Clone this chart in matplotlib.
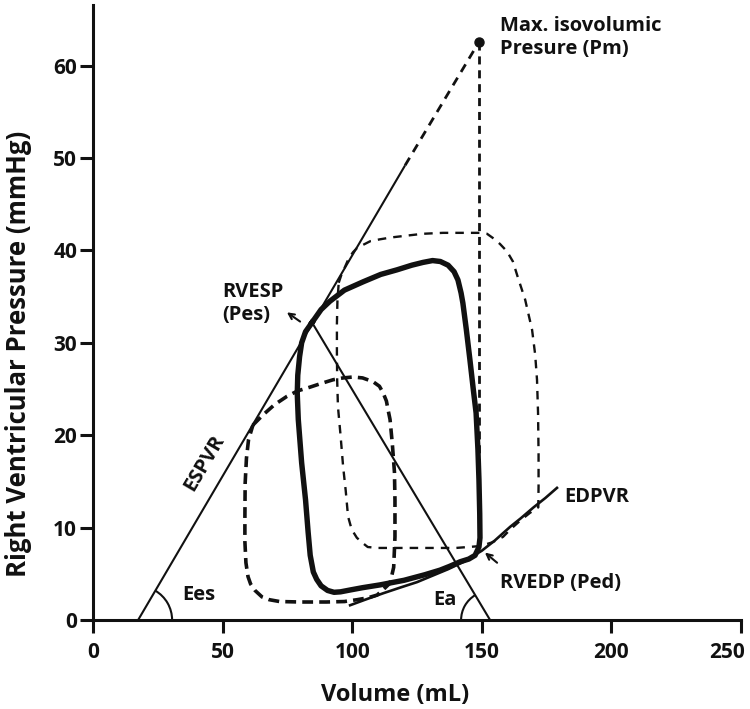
import numpy as np
import matplotlib
matplotlib.use('Agg')
import matplotlib.pyplot as plt
from matplotlib.patches import Arc
from matplotlib.transforms import ScaledTranslation

plt.rcParams['font.family'] = ['Open Sans', 'DejaVu Sans']
INK = '#111111'

# baseline PV loop (thick solid), volume mL / pressure mmHg
base_v = [84.5, 88, 91.4, 97, 104.2, 111, 117.3, 123, 127.3, 131, 134, 137, 139.3, 140.8, 142, 142.7,
          144, 145.4, 146.7, 147.8, 148.5, 148.9, 149.2, 149.3, 148.9, 147.4, 145, 141.6, 137.5, 133.9,
          128, 120, 110.7, 104, 99.2, 95.5, 93, 90.5, 88, 86.3, 85, 83.8, 83, 82, 80.5, 79.2, 78.8,
          79, 79.7, 80.5, 82, 84.5]
base_p = [32.2, 33.6, 34.5, 35.7, 36.6, 37.4, 37.9, 38.4, 38.7, 38.9, 38.8, 38.4, 37.7, 36.8, 35.4, 34.3,
          31.5, 28.2, 25, 22.4, 18.5, 15.2, 11.5, 8.9, 7.9, 7.0, 6.6, 6.3, 5.8, 5.4,
          4.9, 4.3, 3.8, 3.5, 3.25, 3.05, 3.0, 3.2, 3.7, 4.4, 5.2, 7.0, 9.5, 13, 17, 21.7, 24.5,
          26.5, 28.5, 30, 31.2, 32.2]

# smaller loop (thick dashed)
small_v = [61.7, 65.6, 70, 74.8, 79, 83.7, 88, 92.6, 96.5, 100.3, 104, 108, 110.5, 111.9, 113.2, 113.8,
           114.6, 115.5, 116.3, 116.5, 116.5, 116, 114.6, 112, 109.6, 106, 101.9, 97, 90, 80, 72,
           68, 65.2, 62.5, 60.8, 59.8, 59, 58.6, 58.6, 58.7, 59.2, 60, 61.7]
small_p = [21.1, 22.2, 23.3, 24.2, 24.8, 25.2, 25.6, 26.0, 26.2, 26.3, 26.2, 25.8, 25.3, 24.6, 23.7, 22.8,
           21.7, 19, 16, 13, 9, 5.7, 4.0, 3.3, 2.7, 2.4, 2.2, 2.0, 1.95, 1.95, 2.0,
           2.2, 2.5, 3.2, 3.9, 4.7, 6.2, 8.5, 11, 14.8, 17.5, 19.5, 21.1]

# larger loop (thin dashed)
large_v = [94.8, 96, 97.2, 98.6, 100.3, 102, 104.2, 107, 110.7, 115, 121.1, 127.3, 135, 142, 149.3, 152,
           154.5, 157, 159.7, 162, 164, 166.7, 169.4, 170.6, 171.3, 171.7, 171.9, 171.9, 171.8,
           168.6, 165, 161, 158.2, 154, 149.3, 140, 130, 118.4, 110, 106, 104.2, 101.8, 99.8, 98.4,
           97.5, 96.5, 95.5, 94.5, 94.2, 94.1, 94.1, 94.3, 94.8]
large_p = [36.5, 37.5, 38.2, 39.1, 39.8, 40.3, 40.6, 41.0, 41.2, 41.4, 41.6, 41.8, 41.9, 41.9, 41.9, 41.8,
           41.3, 40.7, 39.9, 38.8, 37.0, 34.7, 31.4, 28.7, 26, 22.4, 18, 14.5, 12.2,
           11.6, 10.8, 9.8, 9.0, 8.4, 8.0, 7.8, 7.8, 7.8, 7.8, 7.9, 8.3, 8.9, 9.8, 11.2,
           14, 16.6, 20, 23.1, 26, 29, 32, 34.5, 36.5]

# end-diastolic pressure-volume relation
edpvr_v = [99.2, 105, 112, 118.4, 125, 131, 137, 143, 150, 155, 161, 165, 170, 174.5, 179]
edpvr_p = [1.6, 2.2, 2.9, 3.5, 4.1, 4.8, 5.5, 6.3, 7.5, 8.6, 10.1, 11.0, 12.2, 13.2, 14.3]

# ESPVR (solid part, dashed extension to Pm), Ea line
espvr_v = [17.4, 120.4]
espvr_p = [0, 49.2]
ext_v = [120.4, 149]
ext_p = [49.2, 62.6]
pm_v, pm_p = 149, 62.6
ea_v = [84.5, 153.2]
ea_p = [32.2, 0]
pm_drop_p = [62.6, 8.0]

xticks = [0, 50, 100, 150, 200, 250]
yticks = [0, 10, 20, 30, 40, 50, 60]

fig = plt.figure(figsize=(7.5, 7.09), dpi=100)
ax = fig.add_axes([0.124, 0.1255, 0.864, 0.868])
ax.set_xlim(0, 250)
ax.set_ylim(0, 66.6)

ax.plot(espvr_v, espvr_p, color=INK, lw=1.5, solid_capstyle='butt')
ax.plot(ext_v, ext_p, color=INK, lw=2.0, dashes=(3.2, 2.4))
ax.plot([pm_v, pm_v], pm_drop_p, color=INK, lw=2.0, dashes=(2.9, 2.1))
ax.plot(ea_v, ea_p, color=INK, lw=1.5)
ax.plot(edpvr_v, edpvr_p, color=INK, lw=1.9)
ax.plot(large_v, large_p, color=INK, lw=1.7, dashes=(3.6, 3.0))
ax.plot(small_v, small_p, color=INK, lw=2.6, dashes=(3.0, 1.7))
ax.plot(base_v, base_p, color=INK, lw=3.9, solid_joinstyle='round')
ax.plot([pm_v], [pm_p], 'o', color=INK, ms=6.5)

# angle arcs drawn as true circles in screen space
def angle_arc(x0, y0, r_px, t1, t2):
    tr = fig.dpi_scale_trans + ScaledTranslation(x0, y0, ax.transData)
    d = 2 * r_px / fig.dpi
    ax.add_patch(Arc((0, 0), d, d, theta1=t1, theta2=t2, transform=tr,
                     color=INK, lw=1.5, clip_on=False))

p0 = ax.transData.transform((espvr_v[0], espvr_p[0]))
p1 = ax.transData.transform((espvr_v[1], espvr_p[1]))
ees_ang = np.degrees(np.arctan2(p1[1] - p0[1], p1[0] - p0[0]))
q0 = ax.transData.transform((ea_v[1], ea_p[1]))
q1 = ax.transData.transform((ea_v[0], ea_p[0]))
ea_ang = np.degrees(np.arctan2(q1[1] - q0[1], q1[0] - q0[0]))
angle_arc(espvr_v[0], 0, 34, 0, ees_ang)
angle_arc(ea_v[1], 0, 29, ea_ang, 180)

tk = dict(fontsize=14.5, fontweight='bold', color=INK)
ax.text(49.8, 36.6, 'RVESP\n(Pes)', ha='left', va='top', linespacing=1.2, **tk)
ax.annotate('', xy=(74.8, 33.3), xytext=(79.9, 32.3),
            arrowprops=dict(arrowstyle='->', color=INK, lw=1.5, shrinkA=0, shrinkB=0))
ax.text(157, 65.4, 'Max. isovolumic\nPresure (Pm)', ha='left', va='top', linespacing=1.2, **tk)
ax.text(182, 13.3, 'EDPVR', ha='left', va='center', **tk)
ax.text(157, 4.0, 'RVEDP (Ped)', ha='left', va='center', **tk)
ax.annotate('', xy=(151.2, 7.3), xytext=(155.9, 6.2),
            arrowprops=dict(arrowstyle='->', color=INK, lw=1.5, shrinkA=0, shrinkB=0))
ax.text(34.3, 2.7, 'Ees', ha='left', va='center', **tk)
ax.text(131.2, 2.2, 'Ea', ha='left', va='center', **tk)
ax.text(43.0, 17.0, 'ESPVR', ha='center', va='center', rotation=ees_ang,
        rotation_mode='anchor', **tk)

for s in ['top', 'right']:
    ax.spines[s].set_visible(False)
for s in ['left', 'bottom']:
    ax.spines[s].set_linewidth(2.2)
    ax.spines[s].set_color(INK)
ax.set_xticks(xticks)
ax.set_yticks(yticks)
ax.tick_params(direction='out', length=9.5, width=2.2, color=INK, labelsize=15, labelcolor=INK)
ax.tick_params(axis='x', pad=6)
ax.tick_params(axis='y', pad=2)
for lab in ax.get_xticklabels() + ax.get_yticklabels():
    lab.set_fontweight('bold')
last = ax.get_xticklabels()[-1]
last.set_horizontalalignment('right')
last.set_transform(last.get_transform() + ScaledTranslation(4 / 100, 0, fig.dpi_scale_trans))

ax.set_xlabel('Volume (mL)', fontsize=17, fontweight='bold', color=INK)
ax.set_ylabel('Right Ventricular Pressure (mmHg)', fontsize=18.5, fontweight='bold', color=INK)
ax.xaxis.set_label_coords(0.466, -0.102)
ax.yaxis.set_label_coords(-0.094, 0.433)

fig.savefig('out.png', dpi=100)
